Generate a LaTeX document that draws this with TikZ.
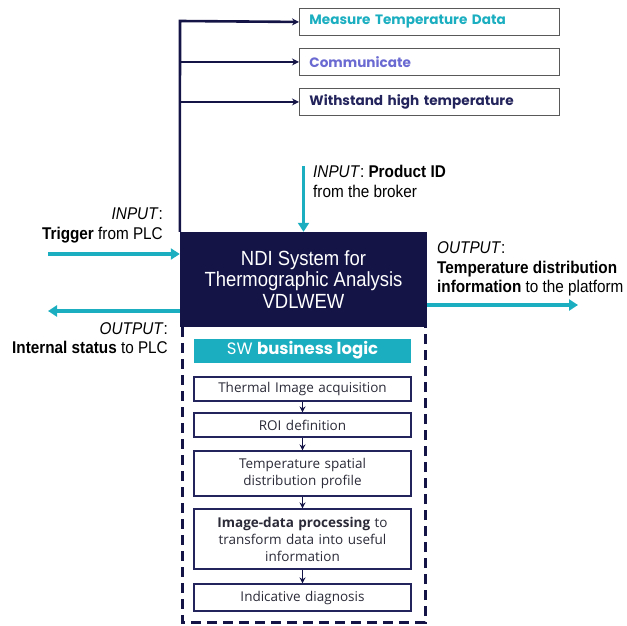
\documentclass[tikz,border=0pt]{standalone}
\usepackage{fontspec}
\setmainfont{Liberation Sans}
\newfontfamily\popfont{Poppins}
\newfontfamily\narrowfont[FakeStretch=0.9]{Liberation Sans}
\newfontfamily\stepfont{Open Sans}
\usetikzlibrary{arrows.meta}
\definecolor{navy}{HTML}{141446}
\definecolor{teal}{HTML}{1AAEC0}
\definecolor{lilac}{HTML}{6A6AD2}
\definecolor{deepnavy}{HTML}{24245C}
\definecolor{steptext}{HTML}{2A2A38}
\begin{document}
\begin{tikzpicture}[x=1pt,y=-1pt,
  goalbox/.style={draw=black!65, line width=0.9pt, anchor=north west,
    minimum width=260pt, minimum height=27pt, inner xsep=10pt,
    text width=240pt, align=left, font=\popfont\bfseries\fontsize{13.6}{15}\selectfont},
  trunk/.style={draw=navy, line width=2.6pt},
  trunkarrow/.style={trunk, -{Stealth[length=7pt,width=7pt]}},
  flow/.style={draw=teal, line width=3.2pt, -{Triangle[length=9pt,width=11pt]}},
  sidelabel/.style={font=\narrowfont\fontsize{17}{19.5}\selectfont, inner sep=0pt},
  stepbox/.style={draw=deepnavy, line width=1.1pt, minimum width=217pt,
    text width=205pt, align=center, inner sep=0pt, text=steptext,
    font=\stepfont\fontsize{13.5}{17}\selectfont},
  steparrow/.style={draw=navy, line width=1.3pt, -{Stealth[length=6pt,width=6pt]}}
]
\useasboundingbox (0,0) rectangle (627,626);

% goals of the system
\node[goalbox, text=teal] (measure) at (299,8) {Measure Temperature Data};
\node[goalbox, text=lilac] (comm) at (299,48) {Communicate};
\node[goalbox, text=deepnavy] (withstand) at (299,88) {Withstand high temperature};

% central system block
\node[fill=navy, minimum width=247pt, minimum height=95pt, text=white,
      align=center, inner sep=0pt,
      font=\narrowfont\fontsize{20.5}{21.5}\selectfont] (sys) at (303.5,279.5)
  {NDI System for\\Thermographic Analysis\\VDLWEW};

% trunk to the goals
\coordinate (top) at (180,21);
\draw[trunkarrow] (sys.north west) -- (top) -- (measure.west);
\draw[trunkarrow] (sys.north west |- comm.west) -- (comm.west);
\draw[trunkarrow] (sys.north west |- withstand.west) -- (withstand.west);

% inputs and outputs
\coordinate (pidsrc) at (303.5,166);
\draw[flow] (pidsrc) -- (sys.north);
\node[sidelabel, anchor=west, align=left] (pidlabel) at (313,181.5)
  {\textit{INPUT}: \textbf{Product ID}\\from the broker};

\coordinate (trigsrc) at (48,254);
\draw[flow] (trigsrc) -- (sys.west |- trigsrc);
\node[sidelabel, anchor=east, align=right] (triglabel) at (163,225.5)
  {\textit{INPUT}:\\\textbf{Trigger} from PLC};

\coordinate (statusdst) at (48,311);
\draw[flow] (sys.west |- statusdst) -- (statusdst);
\node[sidelabel, anchor=east, align=right] (statuslabel) at (168,338)
  {\textit{OUTPUT}:\\\textbf{Internal status} to PLC};

\coordinate (platdst) at (578,305);
\draw[flow] (sys.east |- platdst) -- (platdst);
\node[sidelabel, anchor=west, align=left] (platlabel) at (437,269)
  {\textit{OUTPUT}:\\\textbf{Temperature distribution}\\\textbf{information} to the platform};

% software logic container
\coordinate (swtl) at (182,327);
\coordinate (swtr) at (425,327);
\coordinate (swbl) at (182,622);
\coordinate (swbr) at (425,622);
\draw[navy, line width=3pt, dash pattern=on 10pt off 6pt]
  (swtl) -- (swbl) -- (swbr) -- (swtr);

\node[fill=teal, minimum width=217pt, minimum height=24pt, inner sep=0pt,
      text=white, font=\popfont\fontsize{16.5}{18}\selectfont] (banner) at (302.5,350.5)
  {SW \textbf{business logic}};

\node[stepbox, minimum height=24pt] (s1) at (302.5,389) {Thermal Image acquisition};
\node[stepbox, minimum height=24pt] (s2) at (302.5,425) {ROI definition};
\node[stepbox, minimum height=45pt] (s3) at (302.5,473.5) {Temperature spatial\\distribution profile};
\node[stepbox, minimum height=60pt] (s4) at (302.5,539)
  {\textbf{Image-data processing} to\\transform data into useful\\information};
\node[stepbox, minimum height=27pt] (s5) at (302.5,597.5) {Indicative diagnosis};

\draw[steparrow] (s1) -- (s2);
\draw[steparrow] (s2) -- (s3);
\draw[steparrow] (s3) -- (s4);
\draw[steparrow] (s4) -- (s5);
\end{tikzpicture}
\end{document}
